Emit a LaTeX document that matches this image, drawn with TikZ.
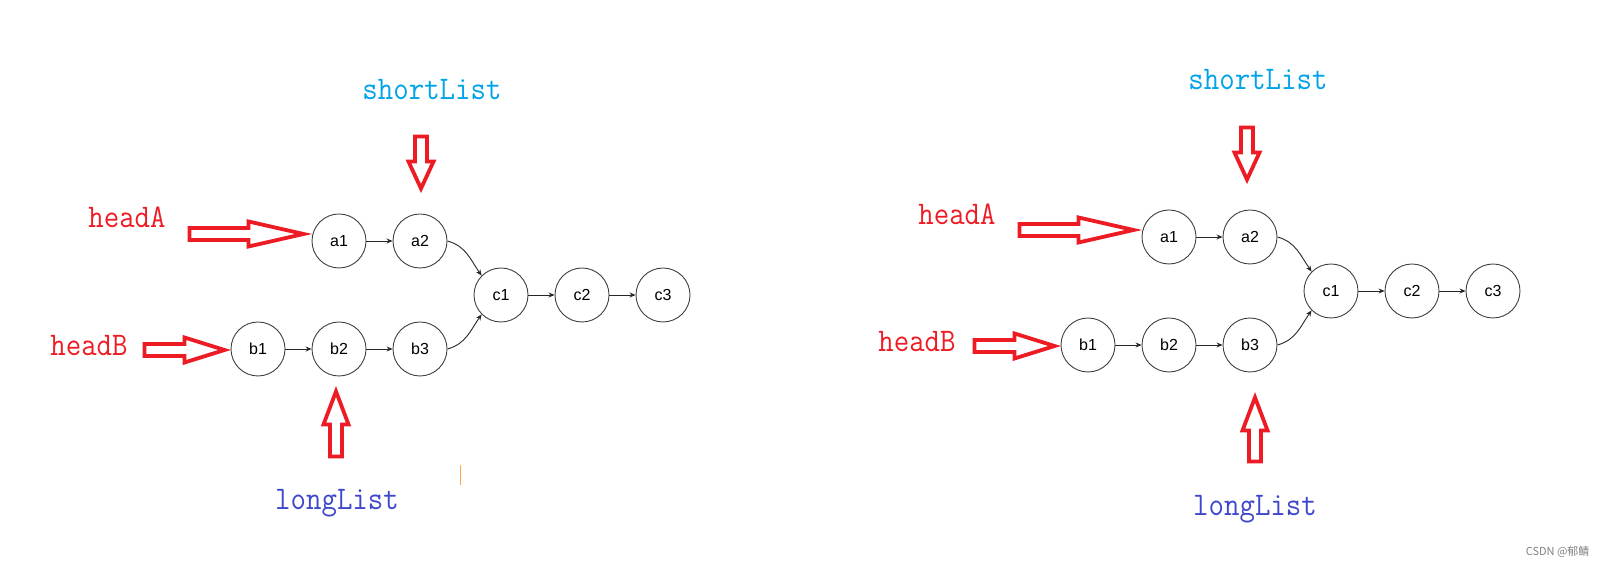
\documentclass[tikz,border=0pt]{standalone}
\usepackage{fontspec}
\setmainfont{Liberation Sans}
\newfontfamily\cjkfont{Noto Sans CJK SC}
\usetikzlibrary{arrows.meta,calc}

\definecolor{ptrred}{HTML}{ED1C24}
\definecolor{shortblue}{HTML}{00A2E8}
\definecolor{longblue}{HTML}{3F48CC}

\tikzset{
  elem/.style={circle, draw=black!75, line width=0.9pt, minimum size=54pt, inner sep=0pt, font=\fontsize{16}{18}\selectfont},
  link/.style={-{Stealth[length=6pt,width=5pt]}, line width=0.9pt, black!85},
  ptr/.style={draw=ptrred, line width=3.8pt, line join=miter},
  tag/.style={anchor=base, font=\ttfamily\fontsize{30}{34}\selectfont},
}

% tall label text
\newcommand{\tagtext}[1]{\scalebox{1}[1.1]{#1}}

% hollow pointer: tip, direction, total length, head length
\newcommand{\blockptr}[4]{%
  \draw[ptr, shift={(#1)}, rotate=#2] (0,0) -- (-#4,12.5) -- (-#4,6) -- (-#3,6)
    -- (-#3,-6) -- (-#4,-6) -- (-#4,-12.5) -- cycle;}

\begin{document}
\begin{tikzpicture}[x=1pt,y=1pt]
\useasboundingbox (0,0) rectangle (1608,567);

% left: start of the walk
\node[elem] (L-a1) at (339,326) {a1};
\node[elem] (L-a2) at (420,326) {a2};
\node[elem] (L-c1) at (501,272) {c1};
\node[elem] (L-c2) at (582,272) {c2};
\node[elem] (L-c3) at (663,272) {c3};
\node[elem] (L-b1) at (258,218) {b1};
\node[elem] (L-b2) at (339,218) {b2};
\node[elem] (L-b3) at (420,218) {b3};

\draw[link] (L-a1) -- (L-a2);
\draw[link] (L-a2.east) to[out=-15,in=125] (L-c1.north west);
\draw[link] (L-b1) -- (L-b2);
\draw[link] (L-b2) -- (L-b3);
\draw[link] (L-b3.east) to[out=15,in=-125] (L-c1.south west);
\draw[link] (L-c1) -- (L-c2);
\draw[link] (L-c2) -- (L-c3);

\node[tag, text=ptrred] (L-headA) at (127,339) {\tagtext{headA}};
\node[tag, text=ptrred] (L-headB) at (89,211) {\tagtext{headB}};
\node[tag, text=shortblue] (L-short) at (432,467) {\tagtext{shortList}};
\node[tag, text=longblue] (L-long) at (337,57) {\tagtext{longList}};

\coordinate (L-tA) at ($(L-a1.west)+(-8,7)$);
\coordinate (L-tB) at ($(L-b1.west)+(-6,-1)$);
\coordinate (L-tS) at ($(L-a2.north)+(1,25)$);
\coordinate (L-tL) at ($(L-b2.south)+(-3,-15)$);
\blockptr{L-tA}{0}{114}{55}
\blockptr{L-tB}{0}{80}{40}
\blockptr{L-tS}{-90}{52}{27}
\blockptr{L-tL}{90}{65}{33}

\draw[orange!70, line width=1pt] (460,82) -- (460,102);

% right: longList moved ahead
\node[elem] (R-a1) at (1169,330) {a1};
\node[elem] (R-a2) at (1250,330) {a2};
\node[elem] (R-c1) at (1331,276) {c1};
\node[elem] (R-c2) at (1412,276) {c2};
\node[elem] (R-c3) at (1493,276) {c3};
\node[elem] (R-b1) at (1088,222) {b1};
\node[elem] (R-b2) at (1169,222) {b2};
\node[elem] (R-b3) at (1250,222) {b3};

\draw[link] (R-a1) -- (R-a2);
\draw[link] (R-a2.east) to[out=-15,in=125] (R-c1.north west);
\draw[link] (R-b1) -- (R-b2);
\draw[link] (R-b2) -- (R-b3);
\draw[link] (R-b3.east) to[out=15,in=-125] (R-c1.south west);
\draw[link] (R-c1) -- (R-c2);
\draw[link] (R-c2) -- (R-c3);

\node[tag, text=ptrred] (R-headA) at (957,342) {\tagtext{headA}};
\node[tag, text=ptrred] (R-headB) at (917,215) {\tagtext{headB}};
\node[tag, text=shortblue] (R-short) at (1258,477) {\tagtext{shortList}};
\node[tag, text=longblue] (R-long) at (1255,51) {\tagtext{longList}};

\coordinate (R-tA) at ($(R-a1.west)+(-8,7)$);
\coordinate (R-tB) at ($(R-b1.west)+(-6,-1)$);
\coordinate (R-tS) at ($(R-a2.north)+(-3,30)$);
\coordinate (R-tL) at ($(R-b3.south)+(5,-25)$);
\blockptr{R-tA}{0}{114}{55}
\blockptr{R-tB}{0}{80}{40}
\blockptr{R-tS}{-90}{52}{27}
\blockptr{R-tL}{90}{64}{33}

\node[anchor=base east, text=black!50, font=\cjkfont\fontsize{11}{13}\selectfont] (mark) at (1593,11) {CSDN @郁鲭};
\end{tikzpicture}
\end{document}
